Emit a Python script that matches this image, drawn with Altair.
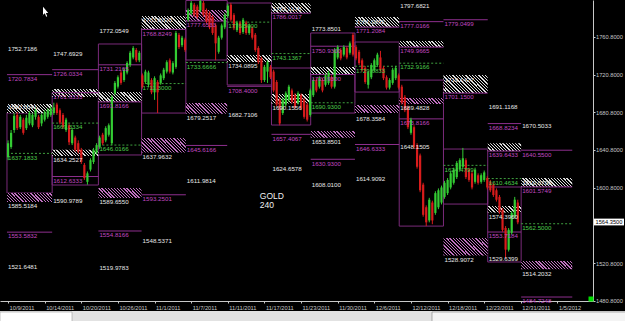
import json
import math
import altair as alt
import pandas as pd

# ---------------- data ----------------
# weekly session column edges (in 4h-bar units)
col_edges = [1.3, 30.9, 61.2, 89.5, 118.5, 145.6, 174.6, 200.3, 229.3, 258.3, 287.3, 316.3, 338.2, 371.7]

# candles: one every 2 bars starting at bar 2
first_bar = 2
bar_step = 2
opens = [1633,1644,1662,1678,1665,1673,1664,1669,1667,1676,
         1676,1669,1673,1676,1678,1680,1689,1683,1678,1662,
         1667,1648,1654,1648,1641,1625,1607,1620,1628,1638,
         1644,1657,1651,1657,1648,1701,1708,1723,1715,1723,
         1731,1739,1747,1736,1720,1713,1710,1715,1702,1713,
         1712,1717,1724,1736,1723,1729,1763,1752,1758,1779,
         1786,1795,1793,1789,1797,1789,1786,1782,1773,1745,
         1760,1771,1783,1795,1784,1768,1776,1766,1776,1765,
         1770,1763,1749,1738,1715,1724,1729,1724,1713,1694,
         1680,1689,1694,1704,1699,1691,1699,1694,1689,1678,
         1699,1715,1708,1715,1710,1712,1718,1708,1739,1747,
         1742,1749,1744,1763,1750,1745,1736,1728,1710,1718,
         1726,1731,1739,1728,1718,1707,1712,1717,1720,1708,
         1697,1686,1659,1665,1646,1635,1604,1580,1566,1585,
         1574,1580,1585,1591,1595,1601,1606,1612,1620,1623,
         1630,1620,1616,1607,1614,1607,1609,1611,1607,1604,
         1598,1591,1577,1558,1535,1553,1570,1585]
closes = [1648,1659,1677,1664,1676,1659,1675,1680,1678,1683,
          1665,1678,1681,1683,1685,1686,1680,1670,1665,1673,
          1649,1662,1641,1639,1628,1611,1616,1630,1641,1646,
          1654,1648,1664,1667,1697,1712,1718,1712,1726,1733,
          1744,1749,1736,1744,1708,1724,1723,1702,1717,1702,
          1720,1726,1734,1724,1733,1765,1750,1760,1747,1789,
          1797,1784,1782,1799,1784,1777,1771,1765,1754,1760,
          1773,1784,1794,1779,1770,1776,1765,1779,1765,1773,
          1760,1747,1734,1715,1729,1734,1718,1704,1689,1669,
          1694,1701,1708,1692,1686,1701,1685,1676,1673,1704,
          1715,1704,1717,1704,1720,1723,1708,1747,1750,1738,
          1750,1739,1754,1742,1738,1733,1726,1713,1723,1731,
          1736,1742,1726,1717,1707,1715,1726,1728,1707,1691,
          1683,1665,1673,1644,1623,1598,1572,1564,1588,1566,
          1595,1598,1601,1606,1609,1616,1620,1627,1630,1632,
          1612,1609,1601,1620,1606,1614,1617,1601,1598,1593,
          1588,1575,1556,1535,1556,1574,1588,1564]
highs = [1651,1662,1680,1681,1678,1675,1678,1682,1680,1685,
         1678,1680,1683,1685,1688,1691,1691,1685,1680,1675,
         1669,1664,1656,1651,1643,1627,1618,1632,1643,1648,
         1656,1659,1666,1669,1699,1714,1720,1725,1728,1735,
         1746,1751,1749,1746,1722,1726,1725,1717,1719,1715,
         1722,1728,1736,1738,1735,1767,1765,1762,1760,1791,
         1799,1797,1795,1800,1799,1791,1788,1784,1775,1762,
         1775,1786,1796,1797,1786,1778,1778,1781,1778,1775,
         1772,1765,1751,1740,1731,1736,1731,1726,1715,1696,
         1696,1703,1710,1706,1701,1703,1701,1696,1691,1706,
         1717,1717,1719,1717,1722,1725,1720,1749,1752,1749,
         1752,1751,1756,1765,1752,1747,1738,1730,1725,1733,
         1738,1744,1746,1730,1720,1717,1728,1730,1722,1710,
         1699,1688,1675,1667,1648,1637,1606,1582,1590,1587,
         1597,1600,1603,1608,1611,1618,1622,1629,1632,1643,
         1632,1622,1618,1622,1616,1616,1619,1613,1609,1606,
         1600,1593,1579,1560,1558,1576,1591,1588]
lows = [1630,1642,1659,1662,1663,1657,1662,1667,1665,1673,
        1663,1666,1671,1674,1676,1678,1678,1668,1663,1660,
        1646,1646,1639,1637,1626,1609,1604,1618,1626,1636,
        1642,1646,1649,1655,1646,1699,1706,1710,1713,1721,
        1729,1737,1734,1734,1706,1711,1708,1700,1694,1680,
        1710,1715,1722,1722,1721,1727,1748,1750,1745,1777,
        1784,1782,1780,1787,1782,1775,1769,1763,1736,1743,
        1758,1769,1781,1777,1768,1766,1763,1764,1763,1763,
        1758,1745,1732,1712,1713,1712,1716,1702,1687,1667,
        1678,1687,1692,1690,1684,1689,1683,1674,1671,1676,
        1697,1702,1706,1702,1708,1710,1706,1706,1737,1736,
        1740,1737,1742,1740,1736,1731,1724,1711,1706,1716,
        1724,1729,1724,1715,1705,1705,1710,1715,1705,1689,
        1681,1663,1657,1642,1621,1596,1570,1560,1564,1562,
        1572,1578,1583,1589,1593,1599,1604,1610,1618,1621,
        1610,1607,1599,1605,1604,1605,1607,1599,1596,1591,
        1586,1573,1554,1526,1533,1551,1568,1562]

# weekly range boxes
box_cols = [0, 1, 2, 3, 4, 5, 6, 7, 8, 9, 10, 11]
box_tops = [1680.0, 1701.6, 1753.3, 1769.2, 1799.5, 1796.8, 1727.8, 1765.0, 1755.4, 1715.0, 1641.8, 1601.5]
box_bottoms = [1595.1, 1603.6, 1635.5, 1680.0, 1736.3, 1709.8, 1667.3, 1680.0, 1702.3, 1560.0, 1583.4, 1521.9]

# purple levels (solid line + label)
purple_cols = [0, 0, 1, 1, 1, 2, 2, 2, 3, 3, 4, 4, 5, 6, 6, 7, 7, 7, 8, 8, 9, 9, 9, 10, 10, 11, 11, 11, 12, 12, 12]
purple_vals = ["1720.7834", "1553.5832", "1726.0334", "1701.6333", "1612.6333", "1731.2165", "1691.8166",
               "1554.8166", "1768.8249", "1593.2501", "1777.6533", "1645.6166", "1708.4000", "1786.0017",
               "1657.4067", "1750.9300", "1720.9300", "1630.9300", "1771.2084", "1646.6333", "1777.0166",
               "1749.9665", "1673.8166", "1779.0499", "1701.1500", "1668.8234", "1639.6433", "1553.7184",
               "1640.5500", "1601.5749", "1484.7248"]

# green levels (dotted line + label)
green_cols = [0, 1, 2, 3, 4, 5, 6, 7, 8, 9, 10, 11, 12]
green_vals = ["1637.1833", "1669.3334", "1646.0166", "1711.3000", "1733.6666", "1776.5000", "1743.1367",
              "1690.9300", "1729.6833", "1732.9166", "1624.4799", "1610.4634", "1562.5000"]

# white price labels
white_cols = [0, 0, 0, 0, 1, 1, 1, 2, 2, 2, 3, 3, 3, 4, 4, 5, 5, 6, 6, 6, 7, 7, 7,
              8, 8, 8, 9, 9, 9, 10, 10, 11, 11, 11, 12, 12, 12]
white_vals = ["1752.7186", "1585.5184", "1521.6481", "1690.6541", "1747.6929", "1634.2527", "1590.9789",
              "1772.0549", "1589.6550", "1519.9783", "1783.8320", "1637.9632", "1548.5371", "1679.2517",
              "1611.9814", "1734.0895", "1682.7106", "1795.1178", "1690.1556", "1624.6578", "1773.8501",
              "1653.8501", "1608.0100", "1781.0892", "1678.3584", "1614.9092", "1797.6821", "1689.4828",
              "1648.1505", "1719.1427", "1528.9072", "1691.1168", "1574.3960", "1529.6399", "1670.5033",
              "1610.0796", "1514.2032"]

# hatched zones
hatch_cols = [0, 0, 1, 1, 2, 2, 3, 3, 4, 4, 5, 6, 6, 7, 7, 8, 8, 9, 9, 10, 10, 11, 11, 12, 12]
hatch_tops = [1689.6, 1595.1, 1705.5, 1641.0, 1702.4, 1600.4, 1783.0, 1653.5, 1789.4, 1690.6, 1741.6,
              1796.8, 1700.2, 1728.9, 1661.0, 1782.0, 1688.5, 1756.5, 1696.0, 1720.4, 1547.4, 1648.0,
              1581.3, 1611.0, 1523.0]
hatch_bottoms = [1680.0, 1585.5, 1697.0, 1634.3, 1691.8, 1589.7, 1768.8, 1638.0, 1777.7, 1679.3, 1734.1,
                 1786.0, 1690.2, 1720.9, 1653.9, 1771.2, 1680.0, 1750.0, 1689.5, 1701.2, 1528.9, 1639.6,
                 1574.4, 1601.6, 1514.2]
hatch_tints = ["w", "p", "w", "w", "w", "p", "w", "p", "p", "p", "w",
               "w", "w", "w", "p", "w", "p", "w", "p", "w", "p", "w",
               "w", "w", "p"]

date_labels = ["10/9/2011", "10/14/2011", "10/20/2011", "10/26/2011", "11/1/2011", "11/7/2011",
               "11/11/2011", "11/17/2011", "11/23/2011", "11/30/2011", "12/6/2011", "12/12/2011",
               "12/18/2011", "12/23/2011", "12/31/2011", "1/5/2012"]
date_ticks = [2 + 24 * k for k in range(len(date_labels))]
# 1560.8000 sits under the current-price tag, so it is not drawn
price_ticks = [1480.8, 1520.8, 1600.8, 1640.8, 1680.8, 1720.8, 1760.8]
current_price = 1564.35
symbol_text = "GOLD\n240"
symbol_bar = 167
symbol_price = 1596.5

# ---------------- style ----------------
W, H = 593, 301
X_DOM = [0, 382]
Y_DOM = [1480.5, 1800]
FONT = "Liberation Sans"
FS = 6.2
AFS = 5.7
GREEN = "#33cc33"
RED = "#d81c1c"
PURPLE_LINE = "#8e2f8e"
PURPLE_BOX = "#7a2a7a"
PURPLE_TEXT = "#c048c0"
GREEN_LINE = "#3fa03f"
GREEN_TEXT = "#4ccc4c"
WHITE_TEXT = "#e8e8e8"
AXIS_COL = "#c8c8c8"

xs = alt.Scale(domain=X_DOM, nice=False, zero=False)
ys = alt.Scale(domain=Y_DOM, nice=False, zero=False)

label_expr = json.dumps(date_labels) + "[round((datum.value - 2) / 24)]"
x_axis = alt.Axis(values=date_ticks, labelExpr=label_expr, labelAlign="left", labelBaseline="top",
                  labelPadding=1, labelOffset=1, labelFontSize=AFS, labelFont=FONT, labelColor=AXIS_COL,
                  tickSize=2, tickColor=AXIS_COL, domainColor=AXIS_COL, grid=False, labelFlush=False,
                  labelOverlap=False, title=None)
y_axis = alt.Axis(orient="right", values=price_ticks, format=".4f", labelFontSize=AFS, labelFont=FONT,
                  labelColor=AXIS_COL, tickSize=2, tickColor=AXIS_COL, domainColor=AXIS_COL, grid=False,
                  labelPadding=0.5, labelFlush=False, labelOverlap=False, title=None)


def X(field):
    return alt.X(field, type="quantitative", scale=xs, axis=x_axis, title=None)


def Y(field):
    return alt.Y(field, type="quantitative", scale=ys, axis=y_axis, title=None)


layers = []

# boxes
bdf = pd.DataFrame({"x0": [col_edges[c] for c in box_cols], "x1": [col_edges[c + 1] for c in box_cols],
                    "t": box_tops, "b": box_bottoms})
layers.append(alt.Chart(bdf).mark_rect(fillOpacity=0, stroke=PURPLE_BOX, strokeWidth=1).encode(
    x=X("x0"), x2="x1", y=Y("t"), y2="b"))

# hatched zones (diagonal stripes via linear gradient)
px_bar = W / (X_DOM[1] - X_DOM[0])
px_price = H / (Y_DOM[1] - Y_DOM[0])
tint_col = {"w": "#dcdcdc", "p": "#c070c0"}


def stripes(w, h, color):
    b = h / w
    s = (1 + b) / (1 + b * b)
    span = (w + h) / math.sqrt(2)
    n = max(2, int(round(span / 2.3)))
    stops = []
    for k in range(n):
        a = round(k / n, 5)
        m = round((k + 0.4) / n, 5)
        e = round((k + 1) / n, 5)
        stops += [alt.GradientStop(offset=a, color=color), alt.GradientStop(offset=m, color=color),
                  alt.GradientStop(offset=m, color="#000000"), alt.GradientStop(offset=e, color="#000000")]
    return alt.LinearGradient(gradient="linear", stops=stops, x1=0, y1=1, x2=round(s, 4),
                              y2=round(1 - s * b, 4))


for c, t, bt, tn in zip(hatch_cols, hatch_tops, hatch_bottoms, hatch_tints):
    hdf = pd.DataFrame({"x0": [col_edges[c]], "x1": [col_edges[c + 1]], "t": [t], "b": [bt]})
    w = (col_edges[c + 1] - col_edges[c]) * px_bar
    h = (t - bt) * px_price
    layers.append(alt.Chart(hdf).mark_rect(fill=stripes(w, h, tint_col[tn])).encode(
        x=X("x0"), x2="x1", y=Y("t"), y2="b"))

# purple level lines
pdf = pd.DataFrame({"x0": [col_edges[c] for c in purple_cols], "x1": [col_edges[c + 1] for c in purple_cols],
                    "y": [float(v) for v in purple_vals], "t": purple_vals})
layers.append(alt.Chart(pdf).mark_rule(color=PURPLE_LINE, strokeWidth=1).encode(x=X("x0"), x2="x1", y=Y("y")))

# green dotted lines
gdf = pd.DataFrame({"x0": [col_edges[c] for c in green_cols], "x1": [col_edges[c + 1] for c in green_cols],
                    "y": [float(v) for v in green_vals], "t": green_vals})
layers.append(alt.Chart(gdf).mark_rule(color=GREEN_LINE, strokeWidth=1, strokeDash=[2, 2]).encode(
    x=X("x0"), x2="x1", y=Y("y")))

# candles
cdf = pd.DataFrame({"bar": [first_bar + bar_step * i for i in range(len(opens))],
                    "o": opens, "h": highs, "l": lows, "c": closes})
cdf["dir"] = ["up" if c >= o else "down" for o, c in zip(opens, closes)]
ccol = alt.Color("dir:N", scale=alt.Scale(domain=["up", "down"], range=[GREEN, RED]), legend=None)
layers.append(alt.Chart(cdf).mark_rule(strokeWidth=1).encode(x=X("bar"), y=Y("l"), y2="h:Q", color=ccol))
layers.append(alt.Chart(cdf).mark_bar(size=2.2).encode(x=X("bar"), y=Y("o"), y2="c:Q", color=ccol))

# labels
txt = dict(align="left", baseline="middle", dx=1, dy=4.3, font=FONT, fontSize=FS)
layers.append(alt.Chart(pdf).mark_text(color=PURPLE_TEXT, **txt).encode(x=X("x0"), y=Y("y"), text="t:N"))
layers.append(alt.Chart(gdf).mark_text(color=GREEN_TEXT, **txt).encode(x=X("x0"), y=Y("y"), text="t:N"))
wdf = pd.DataFrame({"x0": [col_edges[c] for c in white_cols], "y": [float(v) for v in white_vals],
                    "t": white_vals})
layers.append(alt.Chart(wdf).mark_text(color=WHITE_TEXT, **txt).encode(x=X("x0"), y=Y("y"), text="t:N"))

# symbol text
sdf = pd.DataFrame({"x": [symbol_bar], "y": [symbol_price], "t": [symbol_text]})
layers.append(alt.Chart(sdf).mark_text(align="left", baseline="top", lineBreak="\n", lineHeight=9,
                                       font=FONT, fontSize=8.5, color="#f0f0f0").encode(
    x=X("x"), y=Y("y"), text="t:N"))

# current price tag on the right scale
pdf2 = pd.DataFrame({"p": [current_price], "t": [f"{current_price:.4f}"]})
layers.append(alt.Chart(pdf2).mark_point(shape="M-1,-0.2258L1,-0.2258L1,0.2258L-1,0.2258Z", size=900,
                                         filled=True, fill="#ffffff", opacity=1, strokeWidth=0).encode(
    x=alt.value(609), y=Y("p")))
layers.append(alt.Chart(pdf2).mark_text(align="left", baseline="middle", font=FONT, fontSize=AFS,
                                        color="#000000").encode(x=alt.value(595.5), y=Y("p"), text="t:N"))

# terminal decorations: status strip, green marker, mouse cursor
one = pd.DataFrame({"a": [0]})
layers.append(alt.Chart(one).mark_rect(color="#e2e2e2").encode(
    x=alt.value(0), x2=alt.value(625), y=alt.value(311), y2=alt.value(321)))
layers.append(alt.Chart(one).mark_rect(color="#ffffff", stroke="#a0a0a0", strokeWidth=0.6).encode(
    x=alt.value(0), x2=alt.value(72), y=alt.value(312), y2=alt.value(322)))
layers.append(alt.Chart(one).mark_rect(color="#f4f4f4", stroke="#808080", strokeWidth=0.6).encode(
    x=alt.value(432), x2=alt.value(626), y=alt.value(312), y2=alt.value(322)))
layers.append(alt.Chart(one).mark_point(shape="square", size=25, filled=True, color="#00dd00", opacity=1).encode(
    x=alt.value(591), y=alt.value(299)))
layers.append(alt.Chart(one).mark_point(shape="M0,-1L0,0.6L-0.1,0.6L0.35,0.25L0.6,0.9L0.8,0.8L0.55,0.2L1,0.2Z",
                                        size=110, filled=True, color="#ffffff", opacity=1).encode(
    x=alt.value(43), y=alt.value(12)))

chart = alt.layer(*layers).properties(
    width=W, height=H,
    padding={"left": 0, "top": 0, "right": 32, "bottom": 20},
    autosize=alt.AutoSizeParams(type="none"),
).configure(background="#000000").configure_view(strokeWidth=0)

chart.save("out.html", embed_options={"renderer": "svg", "actions": False})
